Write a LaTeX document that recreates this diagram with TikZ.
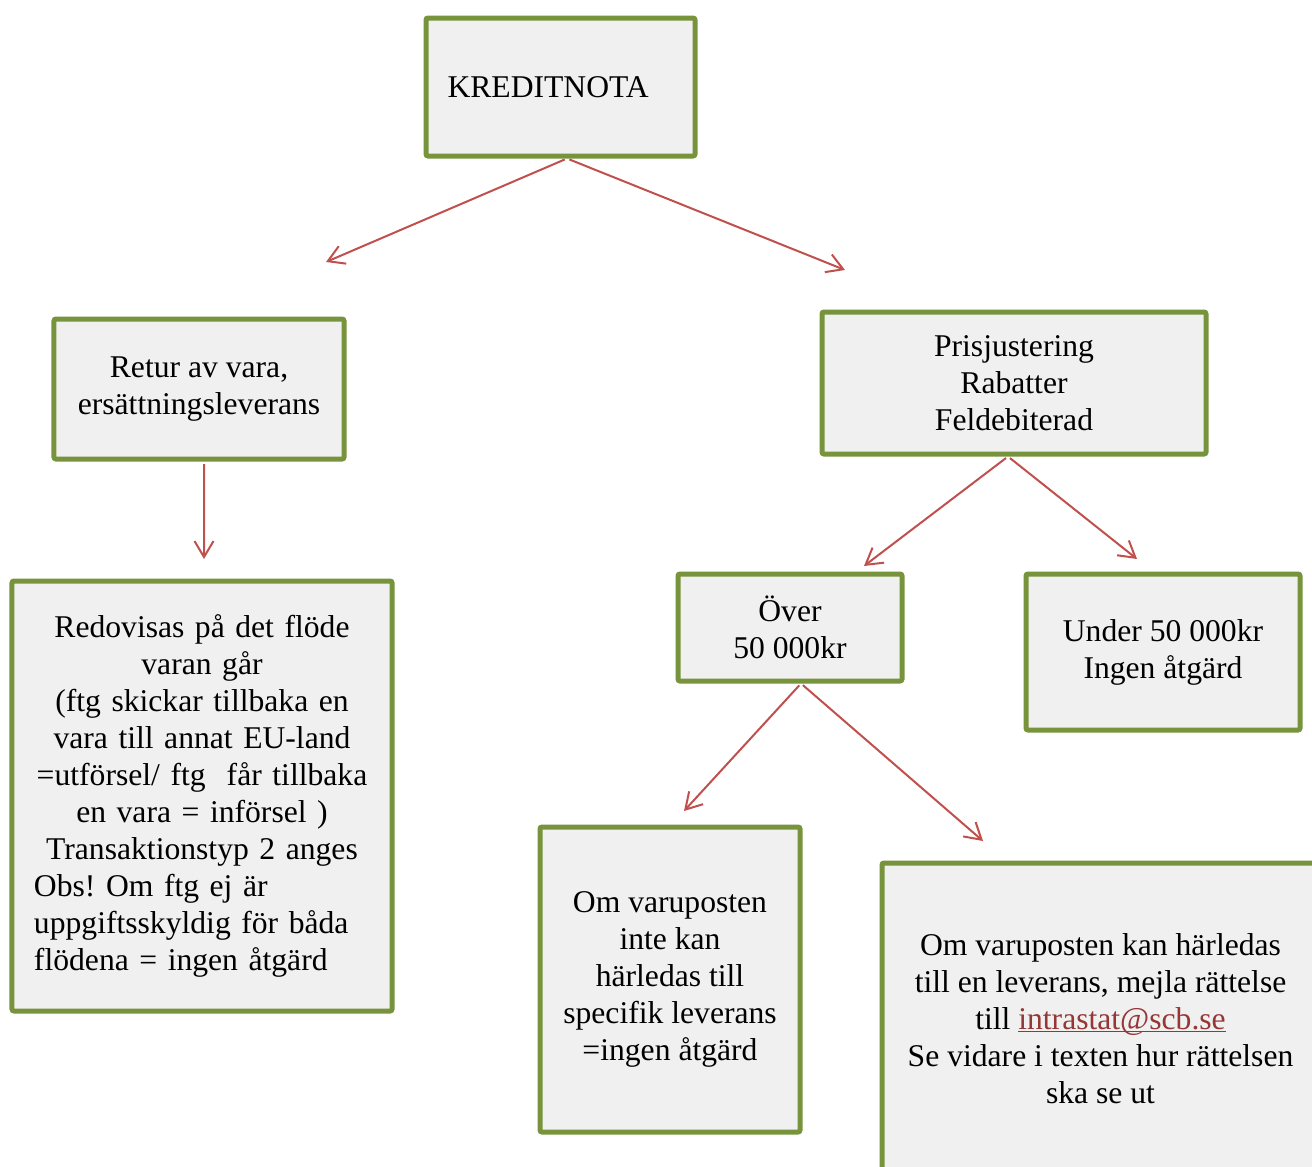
\documentclass[tikz,border=0pt]{standalone}
\usepackage{fontspec}
\setmainfont{Liberation Serif}
\usetikzlibrary{arrows.meta}
\usepackage{xcolor}
\definecolor{boxgreen}{HTML}{77933C}
\definecolor{boxfill}{HTML}{F0F0F0}
\definecolor{arrowred}{HTML}{C0504D}
\definecolor{linkred}{HTML}{953735}
\newcommand\linkline[1]{\setbox0\hbox{#1}\rlap{\rule[-1.6pt]{\wd0}{0.8pt}}\box0}
\frenchspacing

\begin{document}
\begin{tikzpicture}[x=0.2mm, y=-0.2mm,
		greenbox/.style={rectangle, draw=boxgreen, fill=boxfill, line width=1mm, rounded corners=0.4mm, font=\fontsize{18}{21}\selectfont},
		redarrow/.style={draw=arrowred, line width=0.4mm, shorten <=0.5mm, -{Straight Barb[length=3.2mm,width=3.8mm]}},
		]
		\path[use as bounding box, clip] (0,0) rectangle (1312,1166);
		
		%Nodes
		\node[greenbox, minimum width=53.8mm, minimum height=27.6mm, text width=45.2mm, inner xsep=4.3mm, align=left] (kredit) at (560.5,87) {KREDITNOTA};
		\node[greenbox, minimum width=58mm, minimum height=28mm, align=center] (retur) at (199,389) {Retur av vara,\\ ersättningsleverans};
		\node[greenbox, minimum width=76.8mm, minimum height=28.4mm, align=center] (pris) at (1014,383) {Prisjustering\\ Rabatter\\ Feldebiterad};
		\node[greenbox, minimum width=76mm, minimum height=86mm, text width=67.2mm] (redov) at (202,796)
			{{\centering Redovisas på det flöde\\ varan går\\ (ftg skickar tillbaka en\\ vara till annat EU-land\\ =utförsel/ ftg~ får tillbaka\\ en vara = införsel )\\ Transaktionstyp 2 anges\par}
			{\raggedright Obs! Om ftg ej är\\ uppgiftsskyldig för båda\\ flödena = ingen åtgärd\par}};
		\node[greenbox, minimum width=44.8mm, minimum height=21.4mm, align=center] (over) at (790,627.5) {Över\\ 50 000kr};
		\node[greenbox, minimum width=54.8mm, minimum height=31.2mm, align=center] (under) at (1163,652) {Under 50 000kr\\ Ingen åtgärd};
		\node[greenbox, minimum width=52mm, minimum height=61mm, align=center] (inte) at (670,979.5) {Om varuposten\\ inte kan\\ härledas till\\ specifik leverans\\ =ingen åtgärd};
		\node[greenbox, minimum width=87.4mm, minimum height=62.2mm, align=center] (kan) at (1100.5,1018.5)
			{Om varuposten kan härledas\\ till en leverans, mejla rättelse\\ till \textcolor{linkred}{\linkline{intrastat@scb.se}}\\ Se vidare i texten hur rättelsen\\ ska se ut};
		
		% Arrow tips
		\coordinate (tip-retur) at (326,262);
		\coordinate (tip-pris) at (845,270);
		\coordinate (tip-redov) at (204,559);
		\coordinate (tip-over) at (864,566);
		\coordinate (tip-under) at (1137,559);
		\coordinate (tip-inte) at (684,811);
		\coordinate (tip-kan) at (983,841);
		
		%Lines
		\draw[redarrow] ([xshift=1.3mm]kredit.south) -- (tip-retur);
		\draw[redarrow] ([xshift=1.3mm]kredit.south) -- (tip-pris);
		\draw[redarrow] ([xshift=1mm]retur.south) -- (tip-redov);
		\draw[redarrow] ([xshift=-1.2mm]pris.south) -- (tip-over);
		\draw[redarrow] ([xshift=-1.2mm]pris.south) -- (tip-under);
		\draw[redarrow] ([xshift=2.2mm]over.south) -- (tip-inte);
		\draw[redarrow] ([xshift=2.2mm]over.south) -- (tip-kan);
		
	\end{tikzpicture}
\end{document}
